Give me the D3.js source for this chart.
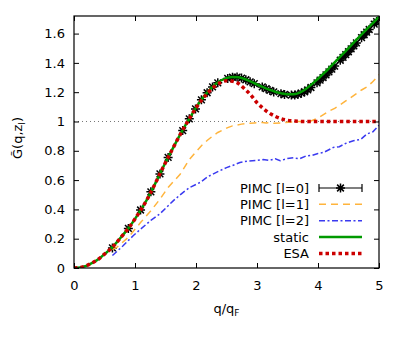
<!DOCTYPE html>
<html>
<head>
<meta charset="utf-8">
<script src="https://cdn.jsdelivr.net/npm/d3@7"></script>
<style>
  body { margin: 0; background: #fff; }
  svg { display: block; font-family: "DejaVu Sans", sans-serif; }
  .axis path, .axis line { stroke: #000; }
  .axis text { font-size: 13px; fill: #000; font-family: "DejaVu Sans", sans-serif; }
</style>
</head>
<body>
<svg id="chart" width="407" height="337"></svg>
<script>
// PIMC l=0 (markers)
const pimc0Q = [0.63, 0.891, 1.091, 1.26, 1.409, 1.543, 1.782, 1.89, 1.992, 2.089, 2.182, 2.271, 2.357,
  2.52, 2.598, 2.673, 2.746, 2.817, 2.887, 2.955, 3.086, 3.15, 3.212, 3.274, 3.393, 3.451, 3.564, 3.619,
  3.673, 3.727, 3.78, 3.832, 3.884, 3.984, 4.034, 4.083, 4.131, 4.179, 4.226, 4.273, 4.365, 4.41, 4.455,
  4.499, 4.543, 4.587, 4.63, 4.714, 4.756, 4.798, 4.839, 4.921, 4.961];
const pimc0G = [0.137, 0.27, 0.396, 0.52, 0.642, 0.755, 0.938, 1.018, 1.086, 1.148, 1.196, 1.236, 1.264,
  1.294, 1.302, 1.303, 1.296, 1.285, 1.271, 1.258, 1.236, 1.224, 1.212, 1.202, 1.19, 1.184, 1.18, 1.181,
  1.186, 1.193, 1.203, 1.216, 1.232, 1.264, 1.282, 1.3, 1.318, 1.338, 1.358, 1.378, 1.418, 1.438, 1.456,
  1.476, 1.496, 1.516, 1.536, 1.572, 1.592, 1.61, 1.628, 1.664, 1.682];

// PIMC l=1
const pimc1Q = [0.63, 0.7, 0.891, 1.091, 1.26, 1.409, 1.543, 1.74, 1.89, 1.992, 2.089, 2.182, 2.271, 2.357,
  2.52, 2.598, 2.673, 2.746, 2.817, 2.887, 2.955, 3.086, 3.15, 3.212, 3.274, 3.393, 3.451, 3.564, 3.673,
  3.78, 3.884, 3.984, 4.083, 4.179, 4.273, 4.365, 4.455, 4.543, 4.63, 4.714, 4.798, 4.881, 4.961, 5.0];
const pimc1G = [0.125, 0.14, 0.21, 0.31, 0.39, 0.47, 0.55, 0.64, 0.74, 0.79, 0.835, 0.87, 0.9, 0.925,
  0.958, 0.97, 0.976, 0.982, 0.985, 0.988, 0.99, 0.993, 0.99, 0.992, 0.988, 0.99, 0.992, 0.996, 1.0,
  1.0, 1.004, 1.02, 1.045, 1.07, 1.09, 1.115, 1.14, 1.165, 1.19, 1.215, 1.235, 1.265, 1.3, 1.32];

// PIMC l=2
const pimc2Q = [0.63, 0.8, 0.97, 1.091, 1.26, 1.409, 1.63, 1.8, 1.9, 2.07, 2.2, 2.39, 2.5, 2.6, 2.72,
  2.85, 3.0, 3.1, 3.2, 3.3, 3.38, 3.5, 3.6, 3.7, 3.81, 3.9, 4.0, 4.1, 4.25, 4.35, 4.45, 4.58, 4.7,
  4.8, 4.9, 5.0];
const pimc2G = [0.085, 0.15, 0.22, 0.265, 0.325, 0.37, 0.46, 0.52, 0.55, 0.585, 0.625, 0.664, 0.685,
  0.7, 0.72, 0.73, 0.735, 0.74, 0.734, 0.745, 0.732, 0.748, 0.752, 0.746, 0.766, 0.768, 0.782, 0.79,
  0.823, 0.828, 0.85, 0.868, 0.878, 0.914, 0.93, 0.975];

// static
const staticQ = [0, 0.1, 0.2, 0.3, 0.4, 0.5, 0.6, 0.7, 0.8, 0.9, 1.0, 1.1, 1.2, 1.3, 1.4, 1.5, 1.6, 1.7,
  1.8, 1.9, 2.0, 2.1, 2.2, 2.3, 2.4, 2.5, 2.6, 2.7, 2.8, 2.9, 3.0, 3.1, 3.2, 3.3, 3.4, 3.5, 3.6, 3.7,
  3.8, 3.9, 4.0, 4.1, 4.2, 4.3, 4.4, 4.5, 4.6, 4.7, 4.8, 4.9, 5.0];
const staticG = [0, 0.004, 0.015, 0.035, 0.06, 0.095, 0.13, 0.175, 0.225, 0.275, 0.335, 0.4, 0.47, 0.55,
  0.635, 0.72, 0.8, 0.88, 0.955, 1.025, 1.095, 1.155, 1.205, 1.248, 1.278, 1.296, 1.304, 1.302, 1.29,
  1.272, 1.253, 1.234, 1.217, 1.203, 1.192, 1.186, 1.186, 1.197, 1.222, 1.255, 1.292, 1.33, 1.372,
  1.415, 1.458, 1.5, 1.545, 1.588, 1.63, 1.672, 1.715];

// ESA
const esaQ = [0, 0.1, 0.2, 0.3, 0.4, 0.5, 0.6, 0.7, 0.8, 0.9, 1.0, 1.1, 1.2, 1.3, 1.4, 1.5, 1.6, 1.7,
  1.8, 1.9, 2.0, 2.1, 2.2, 2.3, 2.4, 2.5, 2.6, 2.7, 2.8, 2.9, 3.0, 3.1, 3.2, 3.3, 3.4, 3.5, 3.6, 3.8,
  4.0, 4.5, 5.0];
const esaG = [0, 0.004, 0.015, 0.035, 0.06, 0.095, 0.13, 0.175, 0.225, 0.275, 0.335, 0.4, 0.47, 0.55,
  0.635, 0.72, 0.8, 0.88, 0.955, 1.025, 1.093, 1.15, 1.198, 1.238, 1.265, 1.278, 1.275, 1.258, 1.222,
  1.18, 1.128, 1.09, 1.058, 1.035, 1.018, 1.008, 1.003, 1.0, 1.0, 1.0, 1.0];

const xTicks = [0, 1, 2, 3, 4, 5];
const xTickLabels = ["0", "1", "2", "3", "4", "5"];
const yTicks = [0, 0.2, 0.4, 0.6, 0.8, 1, 1.2, 1.4, 1.6];
const yTickLabels = ["0", "0.2", "0.4", "0.6", "0.8", "1", "1.2", "1.4", "1.6"];
const legendLabels = ["PIMC [l=0]", "PIMC [l=1]", "PIMC [l=2]", "static", "ESA"];

const margin = {top: 16, right: 28, bottom: 69, left: 74};
const width = 407, height = 337;
const chartW = width - margin.left - margin.right;
const chartH = height - margin.top - margin.bottom;

const svg = d3.select('#chart');
const g = svg.append('g').attr('transform', `translate(${margin.left},${margin.top})`);

const x = d3.scaleLinear().domain([0, 5]).range([0, chartW]);
const y = d3.scaleLinear().domain([0, 1.72]).range([chartH, 0]);

const zip = (qs, gs) => qs.map((q, i) => [q, gs[i]]);

// reference line at 1
g.append('line')
  .attr('x1', x(0)).attr('x2', x(5))
  .attr('y1', y(1)).attr('y2', y(1))
  .attr('stroke', '#777').attr('stroke-width', 1)
  .attr('stroke-dasharray', '1,3');

const clip = g.append('clipPath').attr('id', 'clip')
  .append('rect').attr('width', chartW).attr('height', chartH);

const plot = g.append('g').attr('clip-path', 'url(#clip)');

const star = r => `M${-r},0H${r}M0,${-r}V${r}M${-r*0.75},${-r*0.75}L${r*0.75},${r*0.75}M${-r*0.75},${r*0.75}L${r*0.75},${-r*0.75}`;

// PIMC l=0 markers
plot.selectAll('.p0').data(zip(pimc0Q, pimc0G)).enter().append('path')
  .attr('class', 'p0')
  .attr('transform', d => `translate(${x(d[0])},${y(d[1])})`)
  .attr('d', star(4.5))
  .attr('stroke', '#000').attr('stroke-width', 1.5).attr('fill', 'none');

const lineLin = d3.line().x(d => x(d[0])).y(d => y(d[1]));
const lineSmooth = d3.line().curve(d3.curveMonotoneX).x(d => x(d[0])).y(d => y(d[1]));

const series = [
  {d: lineLin(zip(pimc1Q, pimc1G)), stroke: '#ffb43c', w: 1.5, dash: '7,5'},
  {d: lineLin(zip(pimc2Q, pimc2G)), stroke: '#3a3af0', w: 1.5, dash: '6,2.5,2,2.5'},
  {d: lineSmooth(zip(staticQ, staticG)), stroke: '#009a00', w: 2.5, dash: null},
  {d: lineSmooth(zip(esaQ, esaG)), stroke: '#cc0000', w: 3.5, dash: '3.5,3'}
];

plot.selectAll('.series').data(series).enter().append('path')
  .attr('class', 'series')
  .attr('d', d => d.d)
  .attr('fill', 'none')
  .attr('stroke', d => d.stroke)
  .attr('stroke-width', d => d.w)
  .attr('stroke-dasharray', d => d.dash);

// axes
g.append('g').attr('class', 'axis')
  .attr('transform', `translate(0,${chartH})`)
  .call(d3.axisBottom(x).tickValues(xTicks).tickFormat((d, i) => xTickLabels[i]).tickSize(-5).tickPadding(13));
g.append('g').attr('class', 'axis')
  .call(d3.axisTop(x).tickValues(xTicks).tickFormat('').tickSize(-5));
g.append('g').attr('class', 'axis')
  .call(d3.axisLeft(y).tickValues(yTicks).tickFormat((d, i) => yTickLabels[i]).tickSize(-5).tickPadding(9));
g.append('g').attr('class', 'axis')
  .attr('transform', `translate(${chartW},0)`)
  .call(d3.axisRight(y).tickValues(yTicks).tickFormat('').tickSize(-5));
g.selectAll('.axis .domain').remove();
g.append('rect').attr('width', chartW).attr('height', chartH)
  .attr('fill', 'none').attr('stroke', '#000').attr('stroke-width', 1.2);

// axis labels
const xl = svg.append('text')
  .attr('x', margin.left + chartW / 2).attr('y', 313)
  .attr('text-anchor', 'middle').attr('font-size', 13);
xl.append('tspan').text('q/q');
xl.append('tspan').attr('font-size', 9).attr('dy', 3).text('F');

const yl = svg.append('text')
  .attr('transform', 'translate(22,138) rotate(-90)')
  .attr('text-anchor', 'middle').attr('font-size', 13);
yl.append('tspan').text('G\u0303(q,z');
yl.append('tspan').attr('font-size', 9).attr('dy', 3).text('l');
yl.append('tspan').attr('dy', -3).text(')');

// legend
const legend = svg.append('g');
const rowY = [188, 204.3, 220.7, 237, 253.5];
const lx0 = 319, lx1 = 362, tx = 309;
legendLabels.forEach((label, i) => {
  legend.append('text')
    .attr('x', tx).attr('y', rowY[i] + 4.5)
    .attr('text-anchor', 'end').attr('font-size', 13)
    .text(label);
});
// l=0 sample with error bar
legend.append('line').attr('x1', lx0).attr('x2', lx1).attr('y1', rowY[0]).attr('y2', rowY[0])
  .attr('stroke', '#000').attr('stroke-width', 1.2);
[lx0, lx1].forEach(cx => legend.append('line')
  .attr('x1', cx).attr('x2', cx).attr('y1', rowY[0] - 4).attr('y2', rowY[0] + 4)
  .attr('stroke', '#000').attr('stroke-width', 1.2));
legend.append('path').attr('transform', `translate(${(lx0 + lx1) / 2},${rowY[0]})`)
  .attr('d', star(4.5)).attr('stroke', '#000').attr('stroke-width', 1.5).attr('fill', 'none');
series.forEach((s, i) => {
  legend.append('line')
    .attr('x1', lx0).attr('x2', lx1).attr('y1', rowY[i + 1]).attr('y2', rowY[i + 1])
    .attr('stroke', s.stroke).attr('stroke-width', s.w)
    .attr('stroke-dasharray', s.dash);
});
</script>
</body>
</html>
